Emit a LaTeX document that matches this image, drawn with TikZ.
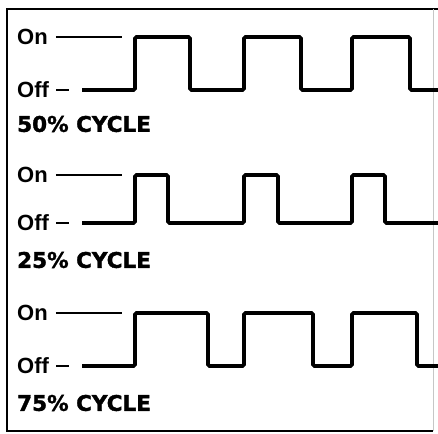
\documentclass[tikz,border=0pt]{standalone}
\usepackage{fontspec}
\setmainfont{Liberation Sans}
\newfontfamily\heavyfont[BoldFeatures={FakeBold=1.6}]{DejaVu Sans}
\usepackage{tikz}

\begin{document}
\begin{tikzpicture}[x=1pt, y=-1pt,
	lbl/.style={anchor=west, inner sep=0pt, font=\fontsize{22}{24}\selectfont\bfseries},
	cyclbl/.style={anchor=west, inner sep=0pt, font=\heavyfont\fontsize{21.5}{24}\selectfont\bfseries},
	thinline/.style={line width=1.3pt},
	wave/.style={line width=3.8pt, rounded corners=1.5pt}]
	\useasboundingbox (0,0) rectangle (438,433);
	% Frame
	\draw[line width=1.8pt] (438,9) -- (7,9) -- (7,431) -- (433,431);
	\draw[gray!45, line width=0.8pt] (433,9) -- (433,431);
	% Panels: on level / off level / caption / three falls / duty
	\foreach \n/\yon/\yoff/\ytxt/\fa/\fb/\fc/\pct in {1/37/90/124/190/301/410/50, 2/175/223/260/168/278/385/25, 3/313/366/403/208/313/417/75} {
		% Nodes
		\node[lbl] (on\n) at (17,\yon) {On};
		\node[lbl] (off\n) at (17,\yoff) {Off};
		\node[cyclbl] (cyc\n) at (17,\ytxt) {\pct\% CYCLE};
		% Level marks
		\draw[thinline] ([xshift=8pt]on\n.east) -- (122,\yon);
		\draw[thinline] ([xshift=7pt]off\n.east) -- ++(13,0);
		% Wave
		\draw[wave] (82,\yoff) -| (135,\yon) -| (\fa,\yoff) -| (244,\yon) -| (\fb,\yoff)
			-| (352,\yon) -| (\fc,\yoff) -- (440,\yoff);
	}
\end{tikzpicture}
\end{document}
